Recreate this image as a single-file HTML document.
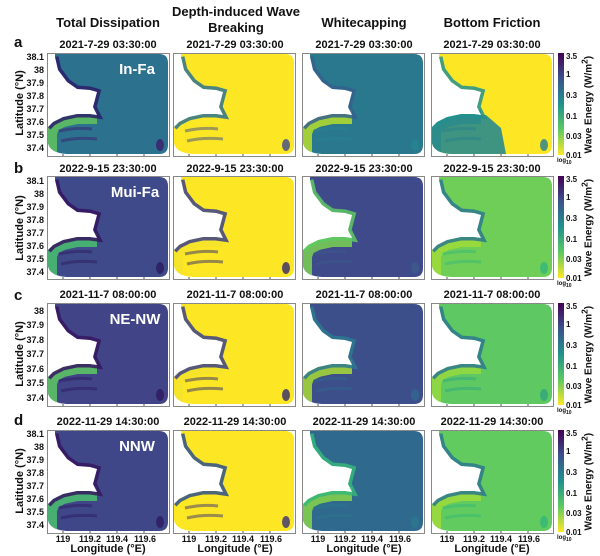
<!DOCTYPE html>
<html><head><meta charset="utf-8"><style>
body{margin:0;width:600px;height:556px;background:#fff;position:relative;overflow:hidden;font-family:"Liberation Sans",sans-serif;font-weight:bold;color:#111}
.t{position:absolute;white-space:nowrap;transform:translateX(-50%);text-align:center}
.h{font-size:13px}
.d{font-size:11px}
.y{position:absolute;font-size:9px;width:40px;text-align:right;transform:translateY(-50%)}
.x{position:absolute;font-size:9px;transform:translateX(-50%)}
.L{position:absolute;font-size:15px}
.rot{position:absolute;font-size:11px;transform:rotate(-90deg);transform-origin:center;white-space:nowrap;width:120px;text-align:center}
.lab{position:absolute;color:#fff;font-size:15px;transform:translateX(-50%)}
svg{position:absolute}
</style></head><body>
<svg id="S" width="600" height="556" style="left:0;top:0"></svg>

<div class="t h" style="left:108px;top:15px">Total Dissipation</div>
<div class="t h" style="left:236px;top:4px;line-height:16px">Depth-induced Wave<br>Breaking</div>
<div class="t h" style="left:364px;top:15px">Whitecapping</div>
<div class="t h" style="left:492px;top:15px">Bottom Friction</div>

<div class="L" style="left:14px;top:34px">a</div>
<div class="L" style="left:14px;top:160px">b</div>
<div class="L" style="left:14px;top:287px">c</div>
<div class="L" style="left:14px;top:412px">d</div>

<div class="t d" style="left:108px;top:39px">2021-7-29 03:30:00</div>
<div class="t d" style="left:235px;top:39px">2021-7-29 03:30:00</div>
<div class="t d" style="left:364px;top:39px">2021-7-29 03:30:00</div>
<div class="t d" style="left:492px;top:39px">2021-7-29 03:30:00</div>
<div class="t d" style="left:108px;top:163px">2022-9-15 23:30:00</div>
<div class="t d" style="left:235px;top:163px">2022-9-15 23:30:00</div>
<div class="t d" style="left:364px;top:163px">2022-9-15 23:30:00</div>
<div class="t d" style="left:492px;top:163px">2022-9-15 23:30:00</div>
<div class="t d" style="left:108px;top:289px">2021-11-7 08:00:00</div>
<div class="t d" style="left:235px;top:289px">2021-11-7 08:00:00</div>
<div class="t d" style="left:364px;top:289px">2021-11-7 08:00:00</div>
<div class="t d" style="left:492px;top:289px">2021-11-7 08:00:00</div>
<div class="t d" style="left:108px;top:416px">2022-11-29 14:30:00</div>
<div class="t d" style="left:235px;top:416px">2022-11-29 14:30:00</div>
<div class="t d" style="left:364px;top:416px">2022-11-29 14:30:00</div>
<div class="t d" style="left:492px;top:416px">2022-11-29 14:30:00</div>

<div class="lab" style="left:137px;top:61px">In-Fa</div>
<div class="lab" style="left:135px;top:184px">Mui-Fa</div>
<div class="lab" style="left:135px;top:311px">NE-NW</div>
<div class="lab" style="left:137px;top:438px">NNW</div>

<div class="y" style="left:4px;top:57px">38.1</div><div class="y" style="left:4px;top:70px">38</div><div class="y" style="left:4px;top:83px">37.9</div><div class="y" style="left:4px;top:96px">37.8</div><div class="y" style="left:4px;top:109px">37.7</div><div class="y" style="left:4px;top:122px">37.6</div><div class="y" style="left:4px;top:135px">37.5</div><div class="y" style="left:4px;top:148px">37.4</div>
<div class="y" style="left:4px;top:181px">38.1</div><div class="y" style="left:4px;top:194px">38</div><div class="y" style="left:4px;top:207px">37.9</div><div class="y" style="left:4px;top:220px">37.8</div><div class="y" style="left:4px;top:233px">37.7</div><div class="y" style="left:4px;top:246px">37.6</div><div class="y" style="left:4px;top:259px">37.5</div><div class="y" style="left:4px;top:272px">37.4</div>
<div class="y" style="left:4px;top:311px">38</div><div class="y" style="left:4px;top:325px">37.9</div><div class="y" style="left:4px;top:340px">37.8</div><div class="y" style="left:4px;top:354px">37.7</div><div class="y" style="left:4px;top:369px">37.6</div><div class="y" style="left:4px;top:383px">37.5</div><div class="y" style="left:4px;top:398px">37.4</div>
<div class="y" style="left:4px;top:434px">38.1</div><div class="y" style="left:4px;top:447px">38</div><div class="y" style="left:4px;top:460px">37.9</div><div class="y" style="left:4px;top:473px">37.8</div><div class="y" style="left:4px;top:486px">37.7</div><div class="y" style="left:4px;top:499px">37.6</div><div class="y" style="left:4px;top:512px">37.5</div><div class="y" style="left:4px;top:525px">37.4</div>

<div class="rot" style="left:-40px;top:97px">Latitude (°N)</div>
<div class="rot" style="left:-40px;top:222px">Latitude (°N)</div>
<div class="rot" style="left:-40px;top:348px">Latitude (°N)</div>
<div class="rot" style="left:-40px;top:475px">Latitude (°N)</div>

<div class="x" style="left:63px;top:534px">119</div><div class="x" style="left:90px;top:534px">119.2</div><div class="x" style="left:117px;top:534px">119.4</div><div class="x" style="left:145px;top:534px">119.6</div>
<div class="x" style="left:189px;top:534px">119</div><div class="x" style="left:216px;top:534px">119.2</div><div class="x" style="left:243px;top:534px">119.4</div><div class="x" style="left:271px;top:534px">119.6</div>
<div class="x" style="left:318px;top:534px">119</div><div class="x" style="left:345px;top:534px">119.2</div><div class="x" style="left:372px;top:534px">119.4</div><div class="x" style="left:400px;top:534px">119.6</div>
<div class="x" style="left:447px;top:534px">119</div><div class="x" style="left:474px;top:534px">119.2</div><div class="x" style="left:501px;top:534px">119.4</div><div class="x" style="left:529px;top:534px">119.6</div>
<div class="t d" style="left:108px;top:543px">Longitude (°E)</div>
<div class="t d" style="left:235px;top:543px">Longitude (°E)</div>
<div class="t d" style="left:364px;top:543px">Longitude (°E)</div>
<div class="t d" style="left:492px;top:543px">Longitude (°E)</div>

<script>
(function(){
var S=document.getElementById('S'),h='';
h+='<defs><linearGradient id="vir" x1="0" y1="1" x2="0" y2="0"><stop offset="0" stop-color="#fde725"/><stop offset="0.25" stop-color="#5ec962"/><stop offset="0.5" stop-color="#21918c"/><stop offset="0.75" stop-color="#3b528b"/><stop offset="1" stop-color="#440154"/></linearGradient></defs>';
var cols=[47,173,302,431],rows=[53,176,303,430],W=123,H=106;
var land='M-1,-1 L8,-1 L8,4 L11,17 L20,29 L30,36 L43,37 L50,39 L46,54 L50,62 L43,61 L30,61 L16,64 L6,69 L1,74 L-1,74 Z';
var coast='M8,4 L11,17 L20,29 L30,36 L43,37 L50,39 L46,54 L50,62 L43,61 L30,61 L16,64 L6,69 L1,74';
var south='M50,64 L30,64 L16,67 L6,72 L3,80 L3,101';
var P=[
[['#2c718e','#2a1d6a','#62c25e','#3b1e6d'],['#fde725','#2c728e','#fde725','#3e4a89'],['#2a788e','#35608d','#b5de2b','#25848e'],['#fde725','#21918c','#2a8a8c','#27808e']],
[['#3e4a89','#35145f','#49c16d','#2d1a60'],['#fde725','#3b3f85','#f3e32a','#2f2a6c'],['#3f4a8a','#5ec962','#7ad151','#3b5a8b'],['#6ece58','#2a788e','#a0da39','#35b779']],
[['#414487','#36165f','#5ec962','#2d1a60'],['#fde725','#3b3f85','#f3e32a','#2f2a6c'],['#3d4f8a','#2a788e','#a8db34','#31668e'],['#5ec962','#2a788e','#95d840','#31a57f']],
[['#3f4788','#36165f','#4ac16d','#2d1a60'],['#fde725','#2c4d8a','#fde725','#3b2f78'],['#30698e','#35b779','#86d549','#2a788e'],['#62cb5f','#2a788e','#a0da39','#35b779']]
];
for(var r=0;r<4;r++)for(var c=0;c<4;c++){
 var x=cols[c],y=rows[r],p=P[r][c];
 h+='<g transform="translate('+x+','+y+')">';
 h+='<clipPath id="c'+r+c+'"><path d="M1,1 L112,1 Q121,1 121,10 L121,92 Q121,101 112,101 L20,101 Q3,100 1,90 Z"/></clipPath>';
 h+='<g clip-path="url(#c'+r+c+')">';
 h+='<rect x="0" y="0" width="123" height="106" fill="'+p[0]+'"/>';
 if(c==3&&r==0){h+='<path d="M0,62 L55,62 L70,75 L75,101 L0,101Z" fill="#2a8a8c" opacity="0.9"/>';}
 h+='<path d="'+south+'" fill="none" stroke="'+p[2]+'" stroke-width="14" opacity="0.85"/>';
 h+='<path d="M12,78 Q30,74 45,76 M14,88 Q30,84 50,86" fill="none" stroke="'+p[3]+'" stroke-width="3" opacity="0.5"/>';
 h+='<path d="'+coast+'" fill="none" stroke="'+p[1]+'" stroke-width="7" opacity="0.85"/>';
 h+='<ellipse cx="113" cy="92" rx="4" ry="6" fill="'+p[3]+'" opacity="0.8"/>';
 h+='<path d="'+land+'" fill="#fff"/>';
 h+='<path d="M33,42 Q42,40 48,44 L35,46Z" fill="#fff"/>';
 h+='</g>';
 h+='<rect x="0.5" y="0.5" width="'+(W-1)+'" height="'+(H-3)+'" fill="none" stroke="#888" stroke-width="1"/>';
 for(var k=0;k<4;k++){h+='<line x1="'+(16+k*27)+'" y1="'+(H-3)+'" x2="'+(16+k*27)+'" y2="'+(H-5)+'" stroke="#555"/>';}
 h+='</g>';
}
h+='<rect x="558" y="53" width="6" height="102" fill="url(#vir)"/>';
S.innerHTML=h;
})();
</script>

<div style="position:absolute;left:566px;top:52px;font-size:8px">3.5</div>
<div style="position:absolute;left:566px;top:70px;font-size:8px">1</div>
<div style="position:absolute;left:566px;top:91px;font-size:8px">0.3</div>
<div style="position:absolute;left:566px;top:112px;font-size:8px">0.1</div>
<div style="position:absolute;left:566px;top:132px;font-size:8px">0.03</div>
<div style="position:absolute;left:566px;top:151px;font-size:8px">0.01</div>
<div style="position:absolute;left:557px;top:158px;font-size:6px">log<sub>10</sub></div>
<div class="rot" style="left:527px;top:97px;font-size:10px">Wave Energy (W/m<sup>2</sup>)</div>

<div style="position:absolute;left:558px;top:176px;width:6px;height:102px;background:linear-gradient(#440154,#3b528b,#21918c,#5ec962,#fde725)"></div>
<div style="position:absolute;left:566px;top:175px;font-size:8px">3.5</div>
<div style="position:absolute;left:566px;top:193px;font-size:8px">1</div>
<div style="position:absolute;left:566px;top:214px;font-size:8px">0.3</div>
<div style="position:absolute;left:566px;top:235px;font-size:8px">0.1</div>
<div style="position:absolute;left:566px;top:255px;font-size:8px">0.03</div>
<div style="position:absolute;left:566px;top:274px;font-size:8px">0.01</div>
<div style="position:absolute;left:557px;top:281px;font-size:6px">log<sub>10</sub></div>
<div class="rot" style="left:527px;top:220px;font-size:10px">Wave Energy (W/m<sup>2</sup>)</div>

<div style="position:absolute;left:558px;top:303px;width:6px;height:102px;background:linear-gradient(#440154,#3b528b,#21918c,#5ec962,#fde725)"></div>
<div style="position:absolute;left:566px;top:302px;font-size:8px">3.5</div>
<div style="position:absolute;left:566px;top:320px;font-size:8px">1</div>
<div style="position:absolute;left:566px;top:341px;font-size:8px">0.3</div>
<div style="position:absolute;left:566px;top:362px;font-size:8px">0.1</div>
<div style="position:absolute;left:566px;top:382px;font-size:8px">0.03</div>
<div style="position:absolute;left:566px;top:401px;font-size:8px">0.01</div>
<div style="position:absolute;left:557px;top:408px;font-size:6px">log<sub>10</sub></div>
<div class="rot" style="left:527px;top:347px;font-size:10px">Wave Energy (W/m<sup>2</sup>)</div>

<div style="position:absolute;left:558px;top:430px;width:6px;height:102px;background:linear-gradient(#440154,#3b528b,#21918c,#5ec962,#fde725)"></div>
<div style="position:absolute;left:566px;top:429px;font-size:8px">3.5</div>
<div style="position:absolute;left:566px;top:447px;font-size:8px">1</div>
<div style="position:absolute;left:566px;top:468px;font-size:8px">0.3</div>
<div style="position:absolute;left:566px;top:489px;font-size:8px">0.1</div>
<div style="position:absolute;left:566px;top:509px;font-size:8px">0.03</div>
<div style="position:absolute;left:566px;top:528px;font-size:8px">0.01</div>
<div style="position:absolute;left:557px;top:535px;font-size:6px">log<sub>10</sub></div>
<div class="rot" style="left:527px;top:474px;font-size:10px">Wave Energy (W/m<sup>2</sup>)</div>
</body></html>
